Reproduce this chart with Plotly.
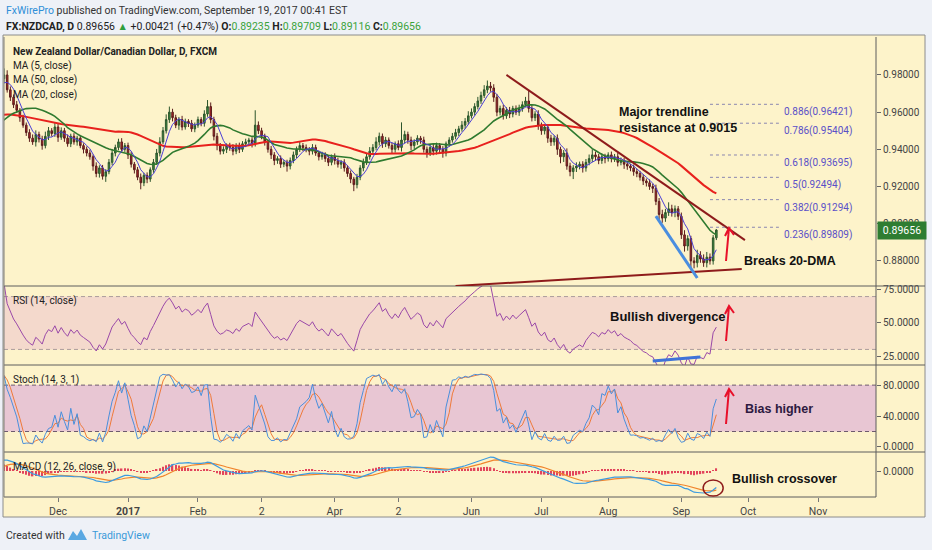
import pandas as pd
import plotly.graph_objects as go
from plotly.subplots import make_subplots


# ================================================= Data ==============================================================

# Warm-up closes before the visible window (Aug 17 - Nov 8 2016), in pips. Needed for MA50 / MACD.
pre_close = [9660, 9680, 9700, 9670, 9690, 9710, 9680, 9660, 9640, 9670, 9690,
             9700, 9720, 9690, 9710, 9680, 9660, 9640, 9670, 9690, 9660, 9630,
             9650, 9680, 9660, 9630, 9610, 9590, 9600, 9570, 9550, 9560, 9540,
             9520, 9500, 9510, 9480, 9460, 9470, 9450, 9430, 9440, 9460, 9450,
             9430, 9410, 9400, 9420, 9450, 9480, 9520, 9560, 9600, 9640,
             9680, 9710, 9740, 9760, 9780, 9800]
pre_up = [12, 15, 10, 18, 14, 12, 20, 15, 11, 16, 13, 17, 12, 15, 19, 14, 10, 16, 13, 18,
          15, 12, 20, 14, 11, 17, 13, 16, 12, 19, 14, 10, 15, 18, 13, 16, 12, 14, 17, 11,
          15, 13, 18, 12, 16, 14, 19, 13, 11, 17, 14, 16, 12, 20, 18, 25, 22, 30, 28, 35]
pre_dn = [14, 11, 16, 12, 18, 13, 10, 17, 15, 12, 16, 13, 19, 11, 14, 17, 12, 15, 18, 10,
          13, 16, 11, 19, 14, 12, 17, 13, 15, 18, 12, 16, 14, 11, 17, 13, 19, 15, 12, 16,
          14, 18, 13, 15, 11, 17, 12, 16, 14, 19, 13, 15, 17, 12, 16, 14, 18, 20, 22, 25]

# Visible daily closes, Nov 9 2016 - Sep 18 2017 (pips).
close_pips = [9720, 9680, 9640, 9610, 9570, 9530, 9490, 9460, 9440, 9480, 9455, 9420, 9470, 9500, 9485, 9520, 9465,
              9500, 9460, 9430, 9470, 9440, 9460, 9420, 9400, 9380, 9360, 9310, 9270, 9300, 9255, 9280,
              9330, 9380, 9410, 9440, 9400, 9420, 9370, 9320, 9290, 9250, 9220, 9260, 9240,
              9290, 9330, 9380, 9440, 9500, 9560, 9600, 9570, 9530, 9560, 9520, 9550, 9540, 9510, 9530, 9560,
              9540, 9590, 9630,
              9560, 9470, 9420, 9390, 9400, 9420, 9410, 9390, 9420, 9400, 9430, 9440, 9450, 9430, 9530, 9500,
              9470, 9440, 9400, 9370, 9340, 9350, 9320, 9330, 9310, 9340, 9370, 9400, 9420, 9410, 9400, 9390,
              9410, 9380, 9360, 9370,
              9350, 9330, 9360, 9340, 9320, 9330, 9300, 9270, 9240, 9210, 9250, 9300, 9330, 9360, 9390, 9410,
              9440, 9470, 9430, 9450, 9420,
              9400, 9430, 9410, 9450, 9480, 9450, 9420, 9440, 9460, 9450, 9400, 9380, 9410, 9390, 9420, 9400,
              9380, 9430, 9450, 9470, 9490, 9510, 9530,
              9550, 9580, 9600, 9630, 9660, 9690, 9720, 9740, 9730, 9680, 9600, 9620, 9580, 9610, 9590, 9620,
              9600, 9620, 9640, 9660, 9620, 9570, 9590, 9530,
              9500, 9520, 9460, 9440, 9460, 9400, 9360, 9380, 9310, 9280, 9300, 9310, 9320, 9300, 9330, 9350,
              9370, 9360, 9340, 9360, 9350, 9370,
              9350, 9360, 9330, 9340, 9320, 9310, 9300, 9280, 9270, 9250, 9230, 9220, 9200, 9190, 9120, 9050,
              9030, 9060, 9080, 9060, 9080, 9040,
              8940, 8880, 8920, 8800, 8790, 8830, 8810, 8790, 8820, 8800, 8924, 8966]
# Wick length above / below the candle body (pips).
wick_up = [25, 18, 15, 20, 12, 16, 14, 18, 20, 22, 15, 18, 25, 20, 14, 22, 16, 18, 15, 20,
           14, 17, 13, 16, 12, 15, 18, 12, 20, 14, 16, 13, 18, 22, 15, 17, 20, 14, 16, 18,
           12, 15, 20, 14, 16, 13, 18, 22, 25, 20, 28, 30, 18, 16, 14, 20, 15, 12, 18, 14,
           16, 13, 20, 35, 22, 15, 18, 14, 16, 12, 15, 18, 13, 16, 14, 17, 12, 15, 80, 20,
           16, 14, 12, 18, 15, 13, 17, 12, 14, 16, 18, 15, 20, 14, 16, 12, 18, 15, 13, 17,
           14, 16, 12, 18, 15, 13, 17, 14, 16, 12, 18, 15, 20, 16, 22, 18, 25, 20, 15, 17,
           14, 16, 12, 18, 95, 20, 15, 18, 14, 16, 12, 18, 15, 13, 20, 16, 14, 17, 12, 15,
           18, 20, 16, 22, 18, 25, 20, 18, 22, 20, 25, 30, 22, 20, 18, 15, 20, 16, 18, 14,
           16, 20, 18, 22, 60, 18, 15, 20, 14, 16, 12, 18, 15, 20, 14, 16, 25, 18, 15, 20,
           14, 16, 18, 22, 30, 18, 15, 20, 16, 14, 18, 15, 20, 16, 14, 17, 12, 18, 15, 14,
           16, 13, 18, 15, 20, 18, 25, 20, 35, 22, 18, 15, 20, 25, 18, 15, 20, 30, 22, 25,
           28, 20, 15, 5]
wick_dn = [15, 20, 18, 15, 22, 14, 18, 20, 16, 25, 18, 22, 15, 20, 16, 18, 25, 14, 20, 16,
           18, 15, 20, 14, 22, 18, 16, 25, 20, 22, 18, 30, 14, 16, 18, 15, 20, 14, 22, 18,
           20, 16, 35, 18, 22, 15, 16, 14, 18, 12, 15, 18, 20, 16, 25, 18, 14, 20, 16, 18,
           14, 16, 18, 15, 20, 22, 25, 18, 16, 20, 18, 22, 16, 20, 14, 18, 16, 20, 15, 18,
           16, 20, 18, 22, 25, 18, 20, 16, 30, 18, 15, 18, 14, 20, 16, 22, 18, 15, 20, 16,
           18, 20, 16, 22, 18, 25, 20, 18, 22, 35, 20, 16, 18, 14, 16, 18, 15, 20, 22, 18,
           16, 20, 18, 15, 22, 18, 20, 25, 18, 16, 20, 18, 25, 16, 22, 18, 20, 25, 18, 16,
           14, 16, 18, 15, 20, 16, 14, 18, 15, 16, 14, 18, 20, 25, 22, 18, 20, 16, 22, 18,
           16, 20, 18, 14, 22, 20, 18, 25, 22, 20, 25, 22, 20, 30, 35, 28, 20, 25, 40, 22,
           18, 25, 20, 16, 18, 22, 20, 18, 25, 16, 20, 18, 22, 16, 25, 20, 18, 22, 20, 18,
           22, 20, 18, 25, 20, 30, 25, 20, 18, 22, 25, 20, 22, 30, 25, 50, 30, 25, 20, 22,
           25, 20, 20, 12]

last_date = '2017-09-18'
view_range = ['2016-11-08', '2017-11-27 05:00']

# Fibonacci retracement levels drawn on the chart.
fib_ratio = ['0.886', '0.786', '0.618', '0.5', '0.382', '0.236']
fib_price = [0.96421, 0.95404, 0.93695, 0.92494, 0.91294, 0.89809]
fib_span = ['2017-09-14', '2017-10-13 16:00']

# Hand drawn lines: (date0, value0, date1, value1).
resistance_line = ['2017-06-16', 0.9800, '2017-09-29', 0.8912]
support_line = ['2017-05-25', 0.8665, '2017-09-28', 0.8756]
wedge_line = ['2017-08-22', 0.9041, '2017-09-08', 0.8708]
rsi_div_line = ['2017-08-21', 21.2, '2017-09-11', 24.2]

tick_dates = ['2016-12-01', '2017-01-02', '2017-02-01', '2017-03-01', '2017-04-03', '2017-05-01',
              '2017-06-01', '2017-07-03', '2017-08-01', '2017-09-01', '2017-10-02', '2017-11-01']
tick_text = ['Dec', '<b>2017</b>', 'Feb', '2', 'Apr', '2', 'Jun', 'Jul', 'Aug', 'Sep', 'Oct', 'Nov']
price_ticks = [0.88, 0.90, 0.92, 0.94, 0.96, 0.98]


# ================================================= Series ============================================================

closes = pre_close + close_pips
ups = pre_up + wick_up
dns = pre_dn + wick_dn
assert len(closes) == len(ups) == len(dns)

dates = pd.bdate_range(end=last_date, periods=len(closes))
df = pd.DataFrame({'close': [c / 10000 for c in closes]}, index=dates)
df['open'] = df['close'].shift(1).fillna(df['close'])
df['high'] = df[['open', 'close']].max(axis=1) + [u / 10000 for u in ups]
df['low'] = df[['open', 'close']].min(axis=1) - [d / 10000 for d in dns]

df['ma5'] = df['close'].rolling(5).mean()
df['ma20'] = df['close'].rolling(20).mean()
df['ma50'] = df['close'].rolling(50).mean()

delta = df['close'].diff()
gain = delta.clip(lower=0).ewm(alpha=1 / 14, adjust=False).mean()
loss = (-delta.clip(upper=0)).ewm(alpha=1 / 14, adjust=False).mean()
df['rsi'] = 100 - 100 / (1 + gain / loss)

hh = df['high'].rolling(14).max()
ll = df['low'].rolling(14).min()
df['k'] = 100 * (df['close'] - ll) / (hh - ll)
df['d'] = df['k'].rolling(3).mean()

df['macd'] = df['close'].ewm(span=12, adjust=False).mean() - df['close'].ewm(span=26, adjust=False).mean()
df['signal'] = df['macd'].ewm(span=9, adjust=False).mean()
df['hist'] = df['macd'] - df['signal']

vis = df[df.index >= view_range[0]]
m_low = min(vis['macd'].min(), vis['signal'].min())


# ================================================= Figure ============================================================

SANS = 'Roboto, Liberation Sans, Arial, sans-serif'
BOLD = 'Liberation Sans, Arial, sans-serif'
BG = '#fdf3ca'


# pixel -> paper helpers (plot area: x 4..876, y 37..497)
def fx(x):
    return (x - 4) / 872


def fy(y):
    return (497 - y) / 460


fig = make_subplots(rows=4, cols=1, shared_xaxes=True, vertical_spacing=0,
                    row_heights=[249, 79, 87, 45])

fig.add_trace(go.Candlestick(x=df.index, open=df['open'], high=df['high'], low=df['low'], close=df['close'],
                             increasing=dict(line=dict(color='#2c552c', width=1), fillcolor='#3f8f3f'),
                             decreasing=dict(line=dict(color='#5a1d1d', width=1), fillcolor='#b52525'),
                             whiskerwidth=0, hoverinfo='skip'), row=1, col=1)
fig.add_trace(go.Scatter(x=df.index, y=df['ma50'], mode='lines', line=dict(color='#e8211d', width=2)), row=1, col=1)
fig.add_trace(go.Scatter(x=df.index, y=df['ma20'], mode='lines', line=dict(color='#2f7a2f', width=1.6)), row=1, col=1)
fig.add_trace(go.Scatter(x=df.index, y=df['ma5'], mode='lines', line=dict(color='#4b3fd6', width=1)), row=1, col=1)

fig.add_trace(go.Scatter(x=df.index, y=df['rsi'], mode='lines', line=dict(color='#9a48a8', width=1)), row=2, col=1)

fig.add_trace(go.Scatter(x=df.index, y=df['d'], mode='lines', line=dict(color='#ef7a3a', width=1)), row=3, col=1)
fig.add_trace(go.Scatter(x=df.index, y=df['k'], mode='lines', line=dict(color='#4a8fdc', width=1)), row=3, col=1)

fig.add_trace(go.Bar(x=df.index, y=df['hist'], marker=dict(color='#e2445c', line=dict(width=0))), row=4, col=1)
fig.add_trace(go.Scatter(x=df.index, y=df['signal'], mode='lines', line=dict(color='#f0842c', width=1.2)), row=4, col=1)
fig.add_trace(go.Scatter(x=df.index, y=df['macd'], mode='lines', line=dict(color='#3d9be0', width=1.2)), row=4, col=1)

fig.update_layout(width=932, height=550, margin=dict(l=4, r=56, t=37, b=53),
                  paper_bgcolor='#eef1f7', plot_bgcolor=BG, showlegend=False, bargap=0.55,
                  xaxis_rangeslider_visible=False, hovermode=False)
fig.update_xaxes(type='date', rangebreaks=[dict(bounds=['sat', 'mon'])], range=view_range,
                 showgrid=False, zeroline=False, showline=False, ticks='')
fig.update_xaxes(tickvals=tick_dates, ticktext=tick_text, ticks='outside', ticklen=4, tickcolor='#777',
                 tickfont=dict(family=SANS, size=10.5, color='#444'), row=4, col=1)
fig.update_yaxes(side='right', showgrid=False, zeroline=False, ticks='outside', ticklen=4, tickcolor='#666',
                 tickfont=dict(family=SANS, size=10, color='#444'))
fig.update_yaxes(range=[0.8665, 1.0004], tickvals=price_ticks, tickformat='.5f', row=1, col=1)
fig.update_yaxes(range=[18.2, 78.0], tickvals=[25, 50, 75], tickformat='.4f', row=2, col=1)
fig.update_yaxes(range=[-6.5, 106], tickvals=[0, 40, 80], tickformat='.4f', row=3, col=1)
fig.update_yaxes(range=[m_low * 26 / 22, -m_low * 19 / 22], tickvals=[0], tickformat='.4f', row=4, col=1)

# chart background, indicator bands and frame
fig.add_shape(type='rect', xref='paper', yref='paper', x0=fx(3), x1=fx(925), y0=fy(517), y1=fy(35),
              fillcolor=BG, line=dict(color='#8c8c8c', width=1), layer='below')
fig.add_shape(type='rect', xref='paper', yref='y2', x0=0, x1=1, y0=30, y1=70,
              fillcolor='#f4d9cc', line=dict(width=0), layer='below')
fig.add_shape(type='rect', xref='paper', yref='y3', x0=0, x1=1, y0=20, y1=80,
              fillcolor='#e8c6d3', line=dict(width=0), layer='below')
for ref, lvl, col in [('y2', 70, '#ab9c9c'), ('y2', 30, '#ab9c9c'), ('y3', 80, '#6e5a6e'), ('y3', 20, '#6e5a6e')]:
    fig.add_shape(type='line', xref='paper', yref=ref, x0=0, x1=1, y0=lvl, y1=lvl,
                  line=dict(color=col, width=1, dash='4px,3px'), layer='below')
for yy in [286, 365, 452]:
    fig.add_shape(type='line', xref='paper', yref='paper', x0=fx(4), x1=fx(925), y0=fy(yy), y1=fy(yy),
                  line=dict(color='#5c5c5c', width=1))
fig.add_shape(type='line', xref='paper', yref='paper', x0=1, x1=1, y0=0, y1=1, line=dict(color='#5c5c5c', width=1))
fig.add_shape(type='line', xref='paper', yref='paper', x0=0, x1=1, y0=0, y1=0, line=dict(color='#5c5c5c', width=1))
fig.add_shape(type='line', xref='paper', yref='paper', x0=0, x1=0, y0=0, y1=1, line=dict(color='#7c7c7c', width=1))

# drawings
for ln, col, w, yref in [(resistance_line, '#8e1b1b', 2, 'y'), (support_line, '#8e1b1b', 2, 'y'),
                         (wedge_line, '#4a8ee0', 3, 'y'), (rsi_div_line, '#3f73d8', 3, 'y2')]:
    fig.add_shape(type='line', xref='x', yref=yref, x0=ln[0], y0=ln[1], x1=ln[2], y1=ln[3],
                  line=dict(color=col, width=w))

for ratio, price in zip(fib_ratio, fib_price):
    fig.add_shape(type='line', xref='x', yref='y', x0=fib_span[0], x1=fib_span[1], y0=price, y1=price,
                  line=dict(color='#8a86b0', width=1, dash='dot'))
    fig.add_annotation(x=fib_span[1], y=price, xref='x', yref='y', text=f'{ratio}({price:.5f})',
                       xanchor='left', yanchor='middle', xshift=3, yshift=-8, showarrow=False,
                       font=dict(family=SANS, size=10, color='#5a50c8'))

fig.add_shape(type='circle', xref='x', yref='y4 domain', xsizemode='pixel', xanchor='2017-09-15',
              x0=-10, x1=10, y0=0.02, y1=0.38, line=dict(color='#8e1b1b', width=1.5))

# red arrows (tail x, tail y, head x, head y) in pixels
for tx, ty, hx, hy in [(726, 261, 729, 228), (726, 341, 729, 306), (726, 424, 729, 389)]:
    path = (f'M {fx(tx)},{fy(ty)} L {fx(hx)},{fy(hy)} '
            f'M {fx(hx - 4)},{fy(hy + 8)} L {fx(hx)},{fy(hy)} L {fx(hx + 5)},{fy(hy + 7)}')
    fig.add_shape(type='path', xref='paper', yref='paper', path=path, line=dict(color='#e8102a', width=2))

# TradingView logo mark
fig.add_shape(type='path', xref='paper', yref='paper',
              path=f'M {fx(68)},{fy(540)} L {fx(73)},{fy(531)} L {fx(77)},{fy(536)} L {fx(81)},{fy(529)} '
                   f'L {fx(87)},{fy(540)} Z',
              fillcolor='#5aa8e2', line=dict(width=0))


def label(text, x, y, size=10, color='#222', family=SANS):
    fig.add_annotation(text=text, x=fx(x), y=fy(y), xref='paper', yref='paper', xanchor='left',
                       yanchor='middle', align='left', showarrow=False,
                       font=dict(family=family, size=size, color=color))


green = '#3aa33a'
label('<span style="color:#2f8fd8">FxWirePro</span> published on TradingView.com, September 19, 2017 00:41 EST',
      4, 10, size=10.5, color='#333')
label(f'<b>FX:NZDCAD, D</b> 0.89656 <span style="color:#2e9e3e">▲</span> +0.00421 (+0.47%) '
      f'<b>O:</b><span style="color:{green}">0.89235</span> <b>H:</b><span style="color:{green}">0.89709</span> '
      f'<b>L:</b><span style="color:{green}">0.89116</span> <b>C:</b><span style="color:{green}">0.89656</span>',
      4, 27, size=10.5, color='#222')

label('<b>New Zealand Dollar/Canadian Dollar, D, FXCM</b>', 11, 52, size=10)
label('MA (5, close)', 11, 66, size=10)
label('MA (50, close)', 11, 80, size=10)
label('MA (20, close)', 11, 95, size=10)
label('RSI (14, close)', 11, 301, size=10)
label('Stoch (14, 3, 1)', 11, 380, size=10)
label('MACD (12, 26, close, 9)', 11, 467, size=10)

label('<b>Major trendline<br>resistance at 0.9015</b>', 617, 120, size=12.5, color='#111', family=BOLD)
label('<b>Breaks 20-DMA</b>', 742, 261, size=12.5, color='#111', family=BOLD)
label('<b>Bullish divergence</b>', 608, 316, size=13, color='#111', family=BOLD)
label('<b>Bias higher</b>', 743, 409, size=12.5, color='#2e1a40', family=BOLD)
label('<b>Bullish crossover</b>', 730, 479, size=12.5, color='#111', family=BOLD)

label('Created with', 4, 535, size=10.5, color='#333')
label('TradingView', 90, 535, size=10.5, color='#3a9ad9')

# last price tag on the price scale
fig.add_annotation(text='0.89656', x=1, y=df['close'].iloc[-1],
                   xref='paper', yref='y', xanchor='left', yanchor='middle', xshift=1, showarrow=False,
                   bgcolor='#2e7d32', width=46, height=15, font=dict(family=SANS, size=10.5, color='white'))

fig.write_html('out.html', config={'displayModeBar': False},
               post_script="document.body.style.margin='0px';")
